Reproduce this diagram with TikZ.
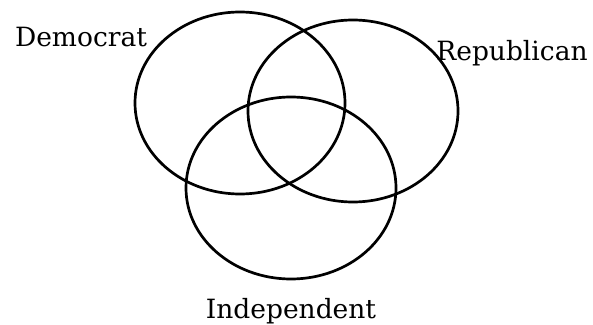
\documentclass[tikz,border=0pt]{standalone}
\usepackage{fontspec}
\setmainfont{DejaVu Serif}
\usetikzlibrary{shapes.geometric, positioning}

\begin{document}
\begin{tikzpicture}[
        x=1pt, y=1pt,
        party/.style={ellipse, draw=black, line width=2.7pt, minimum width=210pt, minimum height=182pt, inner sep=0pt},
        tag/.style={font=\fontsize{26.5}{31}\selectfont, anchor=base, inner sep=0pt}
    ]
        \useasboundingbox (0,0) rectangle (593,324);
        \node[party] (dem) at (240,221) {};
        \node[party] (rep) at (353,213) {};
        \node[party] (ind) at (291,136) {};

        \node[tag] (demlabel) at (81,277) {Democrat};
        \node[tag] (replabel) at (512,263) {Republican};
        \node[tag] (indlabel) at (291,6) {Independent};
    \end{tikzpicture}
\end{document}
